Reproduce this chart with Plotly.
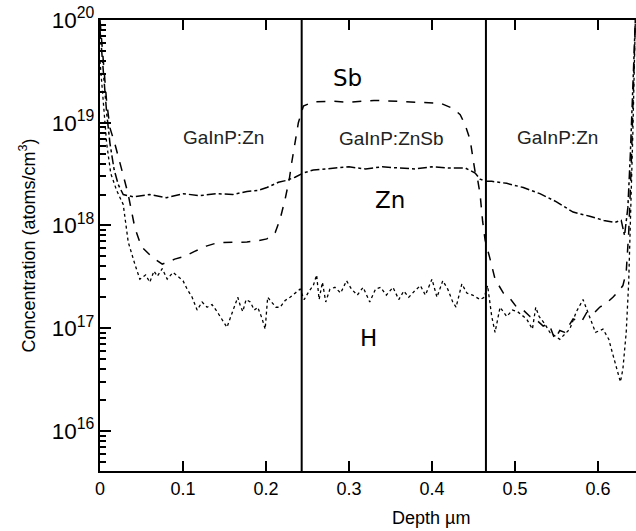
import plotly.graph_objects as go

# ---- data (depth in µm, concentration in atoms/cm^3) ----
sb_depth = [0.000, 0.004, 0.008, 0.012, 0.018, 0.027, 0.034, 0.042, 0.050, 0.063,
            0.075, 0.090, 0.102, 0.114, 0.128, 0.142, 0.160, 0.177, 0.190, 0.201,
            0.211, 0.217, 0.223, 0.228, 0.231, 0.235, 0.239, 0.245, 0.257, 0.280,
            0.300, 0.330, 0.360, 0.390, 0.410, 0.425, 0.434, 0.440, 0.446, 0.449,
            0.452, 0.455, 0.458, 0.461, 0.464, 0.470, 0.476, 0.486, 0.495, 0.502,
            0.510, 0.518, 0.526, 0.534, 0.541, 0.548, 0.554, 0.560, 0.570, 0.580,
            0.587, 0.595, 0.602, 0.610, 0.618, 0.625, 0.630, 0.634, 0.637, 0.640,
            0.642, 0.645]
sb_conc = [1.0e20, 4.0e19, 1.6e19, 8.9e18, 6.2e18, 3.3e18, 2.0e18, 9.5e17, 6.2e17, 4.9e17,
           4.2e17, 4.7e17, 5.0e17, 5.6e17, 6.3e17, 6.8e17, 6.8e17, 6.9e17, 7.1e17, 7.4e17,
           8.5e17, 1.15e18, 1.8e18, 2.8e18, 4.1e18, 6.5e18, 1.0e19, 1.45e19, 1.6e19, 1.62e19,
           1.58e19, 1.65e19, 1.62e19, 1.58e19, 1.55e19, 1.38e19, 1.2e19, 9.5e18, 6.8e18, 4.7e18,
           3.3e18, 2.8e18, 2.0e18, 1.1e18, 7.2e17, 4.7e17, 3.0e17, 2.2e17, 1.9e17, 1.6e17,
           1.5e17, 1.3e17, 1.2e17, 1.05e17, 1.1e17, 7.8e16, 9.5e16, 9.1e16, 1.23e17, 1.15e17,
           1.45e17, 1.4e17, 1.6e17, 1.75e17, 2.0e17, 2.3e17, 2.6e17, 3.5e17, 8.5e17, 3.7e18,
           1.6e19, 1.0e20]

zn_depth = [0.000, 0.004, 0.008, 0.012, 0.017, 0.022, 0.028, 0.040, 0.060, 0.080,
            0.100, 0.120, 0.140, 0.160, 0.177, 0.190, 0.201, 0.215, 0.225, 0.235,
            0.245, 0.257, 0.280, 0.300, 0.320, 0.340, 0.360, 0.380, 0.400, 0.420,
            0.440, 0.452, 0.458, 0.465, 0.472, 0.490, 0.510, 0.530, 0.550, 0.570,
            0.590, 0.607, 0.620, 0.628, 0.632, 0.636, 0.639, 0.642, 0.645]
zn_conc = [8.0e19, 3.2e19, 1.26e19, 6.3e18, 3.5e18, 2.5e18, 2.0e18, 1.9e18, 2.0e18, 1.86e18,
           2.04e18, 1.95e18, 2.04e18, 2.0e18, 2.14e18, 2.19e18, 2.34e18, 2.63e18, 2.75e18, 2.95e18,
           3.24e18, 3.47e18, 3.63e18, 3.72e18, 3.55e18, 3.72e18, 3.63e18, 3.55e18, 3.72e18, 3.63e18,
           3.63e18, 3.24e18, 2.82e18, 2.69e18, 2.69e18, 2.57e18, 2.34e18, 2.04e18, 1.7e18, 1.35e18,
           1.23e18, 1.12e18, 1.07e18, 1.12e18, 8.0e17, 1.5e18, 5.0e18, 2.5e19, 1.0e20]

h_depth = [0.000, 0.004, 0.008, 0.013, 0.020, 0.028, 0.034, 0.042, 0.048, 0.055,
           0.060, 0.065, 0.069, 0.075, 0.081, 0.088, 0.094, 0.100, 0.105, 0.111,
           0.117, 0.123, 0.129, 0.135, 0.141, 0.147, 0.153, 0.157, 0.160, 0.166,
           0.169, 0.172, 0.176, 0.181, 0.186, 0.190, 0.195, 0.199, 0.202, 0.207,
           0.212, 0.217, 0.223, 0.229, 0.235, 0.241, 0.246, 0.252, 0.257, 0.261,
           0.264, 0.268, 0.272, 0.277, 0.283, 0.290, 0.297, 0.303, 0.310, 0.317,
           0.325, 0.332, 0.338, 0.345, 0.353, 0.360, 0.366, 0.372, 0.379, 0.386,
           0.392, 0.400, 0.406, 0.413, 0.419, 0.425, 0.429, 0.436, 0.442, 0.449,
           0.458, 0.463, 0.467, 0.472, 0.476, 0.482, 0.490, 0.497, 0.503, 0.514,
           0.521, 0.525, 0.529, 0.536, 0.542, 0.554, 0.566, 0.574, 0.582, 0.590,
           0.597, 0.606, 0.613, 0.617, 0.622, 0.627, 0.630, 0.634, 0.637, 0.640,
           0.642, 0.645]
h_conc = [4.0e19, 1.6e19, 6.3e18, 3.2e18, 2.2e18, 1.6e18, 6.9e17, 4.2e17, 3.0e17, 3.3e17,
          2.8e17, 3.6e17, 3.2e17, 3.8e17, 3.0e17, 3.5e17, 3.2e17, 2.9e17, 2.4e17, 2.0e17,
          1.5e17, 1.8e17, 1.6e17, 1.7e17, 1.45e17, 1.2e17, 1.02e17, 1.26e17, 1.45e17, 2.0e17,
          1.66e17, 1.45e17, 1.9e17, 1.8e17, 1.5e17, 1.6e17, 1.26e17, 9.8e16, 2.0e17, 1.8e17,
          1.6e17, 1.6e17, 1.86e17, 2.0e17, 2.2e17, 2.4e17, 1.9e17, 2.3e17, 2.6e17, 3.3e17,
          1.9e17, 2.8e17, 1.8e17, 2.4e17, 2.5e17, 2.2e17, 2.9e17, 2.4e17, 2.1e17, 2.5e17,
          1.8e17, 2.4e17, 2.5e17, 2.1e17, 2.5e17, 1.9e17, 2.3e17, 2.0e17, 2.3e17, 2.6e17,
          2.1e17, 3.0e17, 2.0e17, 2.9e17, 2.4e17, 1.8e17, 1.6e17, 2.7e17, 2.2e17, 2.1e17,
          1.9e17, 2.0e17, 2.6e17, 1.3e17, 9.1e16, 1.6e17, 1.3e17, 1.5e17, 1.45e17, 1.23e17,
          9.8e16, 1.6e17, 1.3e17, 1.1e17, 9.1e16, 7.8e16, 9.8e16, 1.45e17, 1.9e17, 1.3e17,
          9.1e16, 9.8e16, 7.8e16, 5.9e16, 4.3e16, 3.0e16, 4.0e16, 9.1e16, 2.8e17, 1.8e18,
          7.9e18, 1.0e20]

layer_boundaries = [0.243, 0.465]
x_tick_vals = [0, 0.1, 0.2, 0.3, 0.4, 0.5, 0.6]
x_tick_text = ["0", "0.1", "0.2", "0.3", "0.4", "0.5", "0.6"]

FONT = "Liberation Sans, Arial, sans-serif"

W, H = 636, 531
ML, MT, MB = 100, 20, 60
PW, PH = W - ML, H - MT - MB

fig = go.Figure()
fig.add_trace(go.Scatter(x=sb_depth, y=sb_conc, mode="lines", name="Sb",
                         line=dict(color="black", width=1.5, dash="dash")))
fig.add_trace(go.Scatter(x=zn_depth, y=zn_conc, mode="lines", name="Zn",
                         line=dict(color="black", width=1.5, dash="dashdot")))
fig.add_trace(go.Scatter(x=h_depth, y=h_conc, mode="lines", name="H",
                         line=dict(color="black", width=1.3, dash="dot")))

for xb in layer_boundaries:
    fig.add_shape(type="line", xref="x", yref="paper", x0=xb, x1=xb, y0=0, y1=1,
                  line=dict(color="black", width=2))

annots = [
    dict(text="GaInP:Zn", x=0.149, y=18.86),
    dict(text="GaInP:ZnSb", x=0.351, y=18.85),
    dict(text="GaInP:Zn", x=0.551, y=18.86),
]
for a in annots:
    fig.add_annotation(text=a["text"], x=a["x"], y=a["y"], xref="x", yref="y",
                       showarrow=False, font=dict(family=FONT, size=19, color="#222"))
for txt, xx, yy in [("Sb", 0.298, 19.44), ("Zn", 0.349, 18.25), ("H", 0.324, 16.90)]:
    fig.add_annotation(text=txt, x=xx, y=yy, xref="x", yref="y", showarrow=False,
                       font=dict(family="DejaVu Sans", size=23, color="black"))

fig.add_annotation(text="Depth \u00b5m", xref="paper", yref="paper", x=(431 - 100) / PW,
                   y=-(518 - 471) / PH, xanchor="center", yanchor="middle", showarrow=False,
                   font=dict(family=FONT, size=18, color="black"))
fig.add_annotation(text="Concentration (atoms/cm<sup>3</sup>)", xref="paper", yref="paper",
                   x=(28 - 100) / PW, y=0.5, textangle=-90, xanchor="center",
                   yanchor="middle", showarrow=False,
                   font=dict(family=FONT, size=18, color="black"))

fig.update_layout(
    width=W, height=H,
    margin=dict(l=ML, r=0, t=MT, b=MB, autoexpand=False),
    paper_bgcolor="white", plot_bgcolor="white",
    showlegend=False,
    font=dict(family=FONT, size=18, color="black"),
)
fig.update_xaxes(range=[0, 0.6458], tickvals=x_tick_vals, ticktext=x_tick_text,
                 ticks="inside", ticklen=10, tickwidth=1.5, tickcolor="black",
                 showline=True, linecolor="black", linewidth=2, mirror="ticks",
                 showgrid=False, zeroline=False, tickfont=dict(size=18), automargin=False)
fig.update_yaxes(type="log", range=[15.61, 20.0], dtick=1, exponentformat="power",
                 showexponent="all", ticks="inside", ticklen=11, tickwidth=1.5,
                 tickcolor="black", showline=True, linecolor="black", linewidth=2,
                 showgrid=False, zeroline=False, tickfont=dict(size=18), automargin=False,
                 minor=dict(ticks="inside", ticklen=6, tickcolor="black", dtick="D1",
                            showgrid=False))

# remove the page's default 8px body margin so the figure fills the window exactly
fig.write_html("out.html", config={"displayModeBar": False},
               post_script="document.body.style.margin='0px';"
               "document.body.style.overflow='hidden';")
